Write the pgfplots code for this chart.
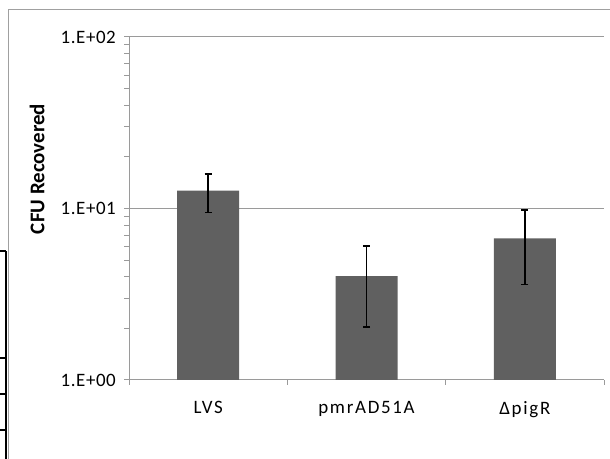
\documentclass[border=0pt]{standalone}
\usepackage{pgfplots}
\pgfplotsset{compat=1.18}
\usepackage{fontspec}
\setmainfont{Carlito}
\definecolor{barfill}{HTML}{606060}
\definecolor{gridgray}{HTML}{9A9A9A}
\definecolor{framegray}{HTML}{A0A0A0}
\begin{document}
\begin{tikzpicture}[x=1bp,y=1bp]
\path[use as bounding box] (0,0) rectangle (610,459);
% chart frame (top and left edges only are in view)
\draw[framegray,line width=1bp] (8,0) -- (8,449) -- (610,449);
% cell borders of the sheet at the left edge
\draw[black,line width=1.5bp] (6,0) -- (6,208);
\foreach \yy in {208,101,65,29} \draw[black,line width=1.5bp] (0,\yy) -- (6,\yy);
\begin{axis}[
  at={(129bp,79bp)},anchor=south west,
  scale only axis,width=475bp,height=343bp,
  ymode=log,ymin=1,ymax=100,
  xmin=-0.5,xmax=2.5,
  ytick={1,10,100},yticklabels={1.E+00,1.E+01,1.E+02},
  xtick={0,1,2},xticklabels={LVS,pmrAD51A,ΔpigR},
  minor xtick={-0.5,0.5,1.5,2.5},
  tick align=outside,
  major tick length=5bp,minor tick length=5bp,
  major x tick style={draw=none},
  every tick/.style={gridgray,line width=1bp},
  minor x tick style={gridgray,line width=1bp},
  ymajorgrids=true,yminorgrids=false,
  grid style={gridgray,line width=1bp},
  axis x line*=bottom,axis y line*=left,
  axis line style={gridgray,line width=1bp,-},
  yticklabel style={font=\fontsize{19}{21}\selectfont\addfontfeature{LetterSpace=3},black,inner sep=0pt,xshift=-8bp},
  xticklabel style={font=\fontsize{19}{21}\selectfont\addfontfeature{LetterSpace=9},black,inner sep=0pt,yshift=-16bp},
  ybar,bar width=62bp,
  log origin=infty,
  clip=false,
]
\addplot[fill=barfill,draw=none,
  error bars/.cd,y dir=both,y explicit,
  error bar style={black,line width=1.6bp},
  error mark options={rotate=90,black,line width=1.6bp,mark size=3.6bp}]
  coordinates {(0,12.7) +- (0,3.2) (1,4.04) +- (0,2.0) (2,6.7) +- (0,3.1)};
\end{axis}
\node[rotate=90,font=\fontsize{21}{23}\selectfont\bfseries] at (37,290) {CFU Recovered};
\end{tikzpicture}
\end{document}
